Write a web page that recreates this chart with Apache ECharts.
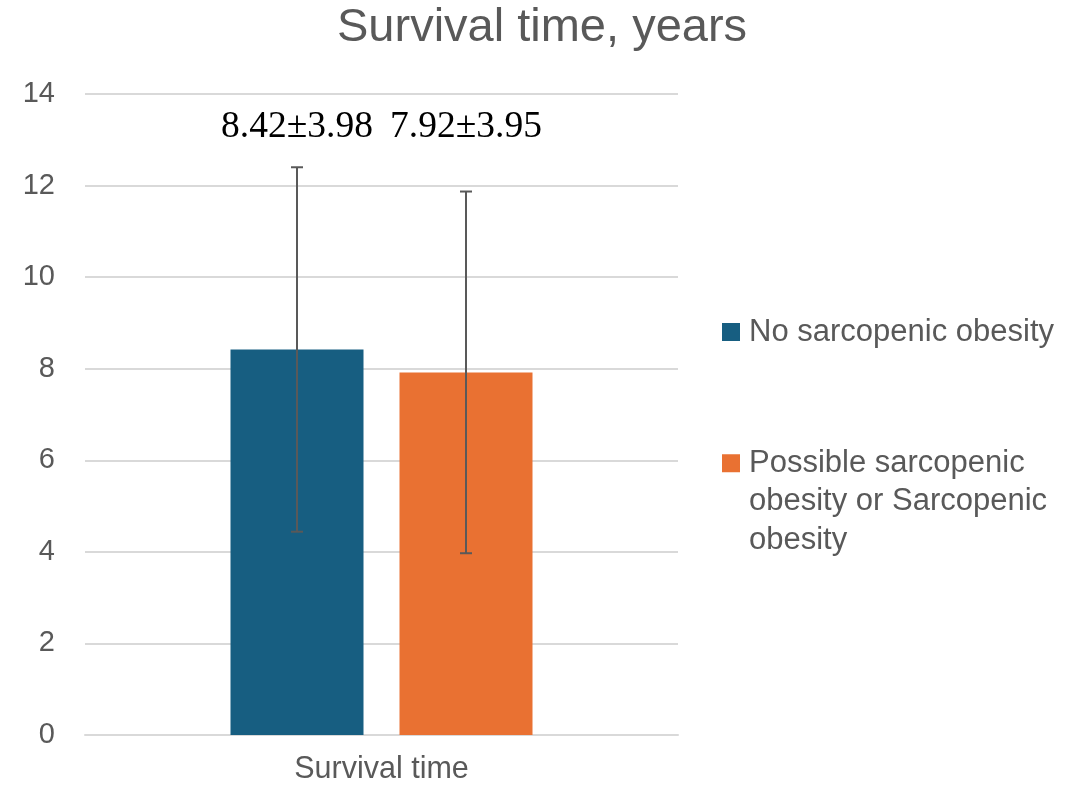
<!DOCTYPE html>
<html><head><meta charset="utf-8">
<script src="https://cdn.jsdelivr.net/npm/echarts@6/dist/echarts.min.js"></script>
<style>html,body{margin:0;padding:0;background:#fff}#c{width:1076px;height:790px}</style>
</head><body><div id="c"></div>
<script>
const titleText = 'Survival time, years';
const categories = ['Survival time'];
const seriesNames = ['No sarcopenic obesity', 'Possible sarcopenic obesity or Sarcopenic obesity'];
const legendLines = [['No sarcopenic obesity'], ['Possible sarcopenic', 'obesity or Sarcopenic', 'obesity']];
const means = [8.42, 7.92];
const sds = [3.98, 3.95];
const yMin = 0, yMax = 14, yStep = 2;
const colors = ['#175e81', '#e97132'];

const FONT = '"Liberation Sans", Arial, sans-serif';
const TXT = '#595959';
const BAR_W = 133, GAP = 36;

const chart = echarts.init(document.getElementById('c'), null, {renderer: 'canvas'});

const barSeries = seriesNames.map((name, i) => ({
  name, type: 'bar', data: [means[i]], barWidth: BAR_W, barGap: (GAP / BAR_W * 100) + '%',
  itemStyle: {color: colors[i]}, z: 2
}));

const errData = means.map((m, i) => [0, i, m - sds[i], m + sds[i], m, sds[i]]);

const errSeries = {
  type: 'custom', name: 'err', z: 5, silent: true,
  data: errData,
  renderItem(params, api) {
    const cat = api.value(0), gi = api.value(1);
    const off = (gi - (seriesNames.length - 1) / 2) * (BAR_W + GAP);
    const lo = api.coord([cat, api.value(2)]);
    const hi = api.coord([cat, api.value(3)]);
    const top = api.coord([cat, yMax]);
    const x = lo[0] + off;
    const cap = 6;
    const st = {stroke: '#595959', lineWidth: 2};
    const label = api.value(4).toFixed(2) + '±' + api.value(5).toFixed(2);
    return {type: 'group', children: [
      {type: 'line', shape: {x1: x, y1: lo[1], x2: x, y2: hi[1]}, style: st},
      {type: 'line', shape: {x1: x - cap, y1: lo[1], x2: x + cap, y2: lo[1]}, style: st},
      {type: 'line', shape: {x1: x - cap, y1: hi[1], x2: x + cap, y2: hi[1]}, style: st},
      {type: 'text', x: x, y: top[1] + 33, style: {text: label, fill: '#000', font: '37.5px "Liberation Serif", "Times New Roman", serif', align: 'center', verticalAlign: 'middle'}}
    ]};
  }
};

// pad multi-line legend text with leading blank lines so its first line sits level with the icon
const legendFormatter = (i) => () => {
  const lines = legendLines[i];
  return '\n'.repeat(lines.length - 1) + lines.join('\n');
};

chart.setOption({
  animation: false,
  backgroundColor: '#fff',
  title: {text: titleText, left: 337, top: 5, padding: 0,
    textStyle: {fontFamily: FONT, fontSize: 47, fontWeight: 'normal', color: TXT}},
  legend: [
    {data: [seriesNames[0]], left: 722, top: 313, padding: 0, orient: 'vertical', itemWidth: 18, itemHeight: 18,
      icon: 'rect', selectedMode: false, formatter: legendFormatter(0),
      textStyle: {fontFamily: FONT, fontSize: 31, color: TXT, lineHeight: 38, padding: [0, 0, 0, 4]}},
    {data: [seriesNames[1]], left: 722, top: 367, padding: 0, orient: 'vertical', itemWidth: 18, itemHeight: 18,
      icon: 'rect', selectedMode: false, formatter: legendFormatter(1),
      textStyle: {fontFamily: FONT, fontSize: 31, color: TXT, lineHeight: 38.5, padding: [0, 0, 0, 4]}}
  ],
  grid: {left: 85, right: 398, top: 94, bottom: 55, containLabel: false},
  xAxis: {type: 'category', data: categories,
    axisLine: {lineStyle: {color: '#d9d9d9', width: 2}}, axisTick: {show: false},
    axisLabel: {fontFamily: FONT, fontSize: 30.5, color: TXT, margin: 19}},
  yAxis: {type: 'value', min: yMin, max: yMax, interval: yStep,
    axisLine: {show: false}, axisTick: {show: false},
    splitLine: {lineStyle: {color: '#d9d9d9', width: 2}},
    axisLabel: {fontFamily: FONT, fontSize: 29, color: TXT, margin: 30}},
  series: [...barSeries, errSeries]
});
</script></body></html>
